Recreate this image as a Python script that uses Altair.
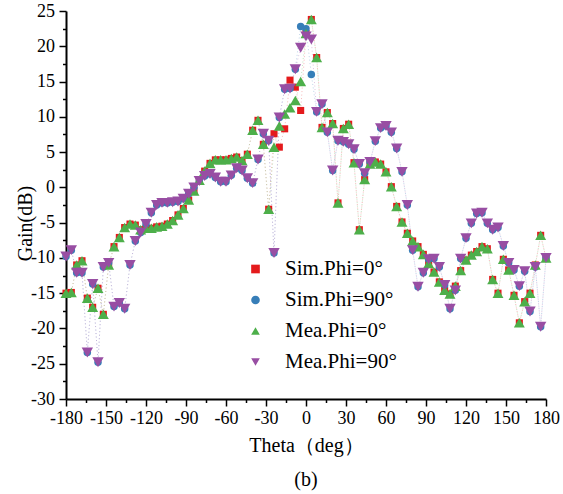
import altair as alt
import pandas as pd

theta = list(range(-180, 181, 4))

sim_phi0 = [
    -15.0, -14.9, -11.0, -10.4, -15.7, -17.0, -14.3, -18.0, -11.0, -8.4,
    -7.1, -5.7, -5.2, -5.35, -6.0, -5.8, -5.8, -5.6, -5.5, -5.2,
    -4.7, -3.9, -3.0, -1.8, -0.5, 1.0, 2.3, 3.4, 3.9, 3.9,
    3.9, 4.1, 4.3, 3.8, 4.7, 8.1, 9.5, 6.1, -3.1, 7.6,
    5.7, 8.3, 15.2, 14.2, 10.9, 21.8, 23.8, 18.4, 8.5, 10.6,
    9.05, -2.2, 8.35, 8.95, 3.5, -6.0, 1.1, 3.3, 3.6, 3.3,
    2.2, 0.1, -2.7, -4.9, -6.5, -7.6, -8.4, -9.5, -10.8, -12.0,
    -13.4, -14.6, -15.1, -14.0, -11.8, -10.3, -9.6, -9.1, -8.4, -8.7,
    -13.05, -15.0, -10.2, -11.7, -15.3, -19.2, -16.2, -15.0, -11.0, -6.8,
    -10.0,
]
sim_phi90 = [
    -9.8, -8.9, -12.1, -12.1, -23.4, -13.7, -24.8, -11.3, -10.7, -16.9,
    -16.4, -17.2, -11.0, -7.6, -6.4, -5.2, -3.6, -2.5, -2.2, -2.2,
    -2.1, -2.0, -1.6, -0.9, 0.0, 0.9, 1.6, 1.9, 1.4, 0.8,
    0.8, 1.7, 2.7, 2.4, 1.3, 0.6, 3.95, 7.6, 6.6, -9.3,
    9.9, 13.9, 14.0, 16.75, 22.8, 22.5, 16.0, 10.7, 11.8, 7.8,
    2.4, 6.6, 6.45, 6.1, 5.4, 3.3, 2.0, 3.6, 6.55, 8.4,
    8.7, 7.8, 5.5, 2.2, -2.5, -8.9, -14.1, -12.1, -10.2, -10.1,
    -11.3, -13.85, -17.2, -14.6, -10.1, -7.2, -5.1, -3.7, -3.6, -5.1,
    -6.0, -5.7, -8.3, -10.7, -11.7, -14.0, -11.9, -17.6, -11.3, -19.75,
    -10.0,
]
mea_phi0 = [
    -15.0, -14.9, -11.0, -10.4, -15.7, -17.0, -14.3, -18.0, -11.0, -8.4,
    -7.1, -5.7, -5.2, -5.35, -6.0, -5.8, -5.8, -5.6, -5.5, -5.2,
    -4.7, -3.9, -3.0, -1.8, -0.5, 1.0, 2.3, 3.4, 3.9, 3.9,
    3.9, 4.1, 4.3, 3.8, 4.7, 8.1, 9.5, 6.1, -3.1, 5.7,
    8.7, 10.4, 11.3, 12.3, 15.0, 21.8, 23.8, 18.4, 8.5, 10.6,
    9.05, -2.2, 8.35, 8.95, 3.5, -6.0, 1.1, 3.3, 3.6, 3.3,
    2.2, 0.1, -2.7, -4.9, -6.5, -7.6, -8.4, -9.5, -10.8, -12.0,
    -13.4, -14.6, -15.1, -14.0, -11.8, -10.3, -9.6, -9.1, -8.4, -8.7,
    -13.05, -15.0, -10.2, -11.7, -15.3, -19.2, -16.2, -15.0, -11.0, -6.8,
    -10.0,
]
mea_phi90 = [
    -9.8, -8.9, -12.1, -12.1, -23.4, -13.7, -24.8, -11.3, -10.7, -16.9,
    -16.4, -17.2, -11.0, -7.6, -6.4, -5.2, -3.6, -2.5, -2.2, -2.2,
    -2.1, -2.0, -1.6, -0.9, 0.0, 0.9, 1.6, 1.9, 1.4, 0.8,
    0.8, 1.7, 2.7, 2.4, 1.3, 0.6, 3.95, 7.6, 6.6, -9.3,
    9.9, 13.9, 14.0, 16.75, 19.8, 21.4, 20.95, 10.7, 11.8, 7.8,
    2.4, 6.6, 6.45, 6.1, 5.4, 3.3, 2.0, 3.6, 6.55, 8.4,
    8.7, 7.8, 5.5, 2.2, -2.5, -8.9, -14.1, -12.1, -10.2, -10.1,
    -11.3, -13.85, -17.2, -14.6, -10.1, -7.2, -5.1, -3.7, -3.6, -5.1,
    -6.0, -5.7, -8.3, -10.7, -11.7, -14.0, -11.9, -17.6, -11.3, -19.75,
    -10.0,
]

series_names = ["Sim.Phi=0°", "Sim.Phi=90°", "Mea.Phi=0°", "Mea.Phi=90°"]
colors = ["#E41A1C", "#377EB8", "#4DAF4A", "#984EA3"]
line_colors = ["#F08A8C", "#93B8DA", "#9ED49C", "#C8A0CF"]
TRI_UP = "M-1,0.87L1,0.87L0,-0.87Z"
TRI_DOWN = "M-1,-0.87L1,-0.87L0,0.87Z"
shapes = ["square", "circle", TRI_UP, TRI_DOWN]
sizes = [50, 56, 120, 130]

x_major = list(range(-180, 181, 30))
x_minor = list(range(-165, 180, 30))
y_major = list(range(-30, 26, 5))
y_minor = [-27.5, -22.5, -17.5, -12.5, -7.5, -2.5, 2.5, 7.5, 12.5, 17.5, 22.5]

rows = []
for name, vals in zip(series_names, [sim_phi0, sim_phi90, mea_phi0, mea_phi90]):
    for t, g in zip(theta, vals):
        rows.append({"theta": t, "gain": g, "series": name})
df = pd.DataFrame(rows)

FONT = "Liberation Serif"

xscale = alt.Scale(domain=[-180, 180], nice=False, zero=False)
yscale = alt.Scale(domain=[-30, 25], nice=False, zero=False)
cscale = alt.Scale(domain=series_names, range=colors)
sscale = alt.Scale(domain=series_names, range=shapes)

x_minor_axis = alt.Axis(values=x_minor, orient="bottom", tickSize=3.5, tickWidth=1.5,
                        tickColor="black", labels=False, domain=False, grid=False, title="")
y_minor_axis = alt.Axis(values=y_minor, orient="left", tickSize=3.5, tickWidth=1.5,
                        tickColor="black", labels=False, domain=False, grid=False, title="")

x_major_axis = alt.Axis(values=x_major, orient="bottom", tickSize=7, tickWidth=1.5,
                        tickColor="black", domainColor="black", domainWidth=2,
                        labelExpr="'' + datum.value",
                        labelFont=FONT, labelFontSize=18, labelColor="black",
                        labelPadding=3, labelFlush=False, labelOverlap=False,
                        grid=False, title="Theta（deg）", titleFont=FONT,
                        titleFontSize=20, titleFontWeight="normal", titleColor="black",
                        titlePadding=8)
y_major_axis = alt.Axis(values=y_major, orient="left", tickSize=7, tickWidth=1.5,
                        tickColor="black", domainColor="black", domainWidth=2,
                        labelExpr="'' + datum.value",
                        labelFont=FONT, labelFontSize=18, labelColor="black",
                        labelPadding=4.5, labelFlush=False, labelOverlap=False,
                        grid=False, title="Gain(dB)", titleFont=FONT,
                        titleFontSize=20, titleFontWeight="normal", titleColor="black",
                        titleX=-31, titleY=212)

legend = alt.Legend(title=None, orient="none", legendX=179, legendY=247.5,
                    labelFont=FONT, labelFontSize=21, labelColor="black",
                    labelOffset=19, rowPadding=9, padding=0, symbolSize=75,
                    symbolOpacity=1)

line_layers = []
for i, (name, lc) in enumerate(zip(series_names, line_colors)):
    if i == 0:
        xa, ya = x_minor_axis, y_minor_axis
    else:
        xa, ya = None, None
    line_layers.append(
        alt.Chart(df).transform_filter(alt.datum.series == name)
        .mark_line(color=lc, strokeDash=[1, 2.5], strokeWidth=1, opacity=0.6)
        .encode(
            x=alt.X("theta:Q", scale=xscale, axis=xa),
            y=alt.Y("gain:Q", scale=yscale, axis=ya),
        )
    )

point_layers = []
for i, (name, sz) in enumerate(zip(series_names, sizes)):
    if i == 0:
        xa, ya = x_major_axis, y_major_axis
    else:
        xa, ya = None, None
    point_layers.append(
        alt.Chart(df).transform_filter(alt.datum.series == name)
        .mark_point(filled=True, opacity=1, size=sz)
        .encode(
            x=alt.X("theta:Q", scale=xscale, axis=xa),
            y=alt.Y("gain:Q", scale=yscale, axis=ya),
            color=alt.Color("series:N", scale=cscale, legend=legend),
            shape=alt.Shape("series:N", scale=sscale, legend=legend),
        )
    )

chart = alt.layer(*line_layers, *point_layers).resolve_axis(
    x="independent", y="independent"
).properties(
    width=480,
    height=388,
    autosize=alt.AutoSizeParams(type="none"),
    padding={"left": 66, "top": 11, "right": 17, "bottom": 95},
    background="white",
    title=alt.TitleParams("(b)", orient="bottom", anchor="middle", font=FONT,
                          fontSize=20, fontWeight="normal", color="black", offset=15),
).configure(font=FONT).configure_view(strokeWidth=0).configure_axis(
    labelFont=FONT, titleFont=FONT
).configure_legend(labelFont=FONT)

chart.save("out.html", embed_options={"renderer": "svg", "actions": False})
